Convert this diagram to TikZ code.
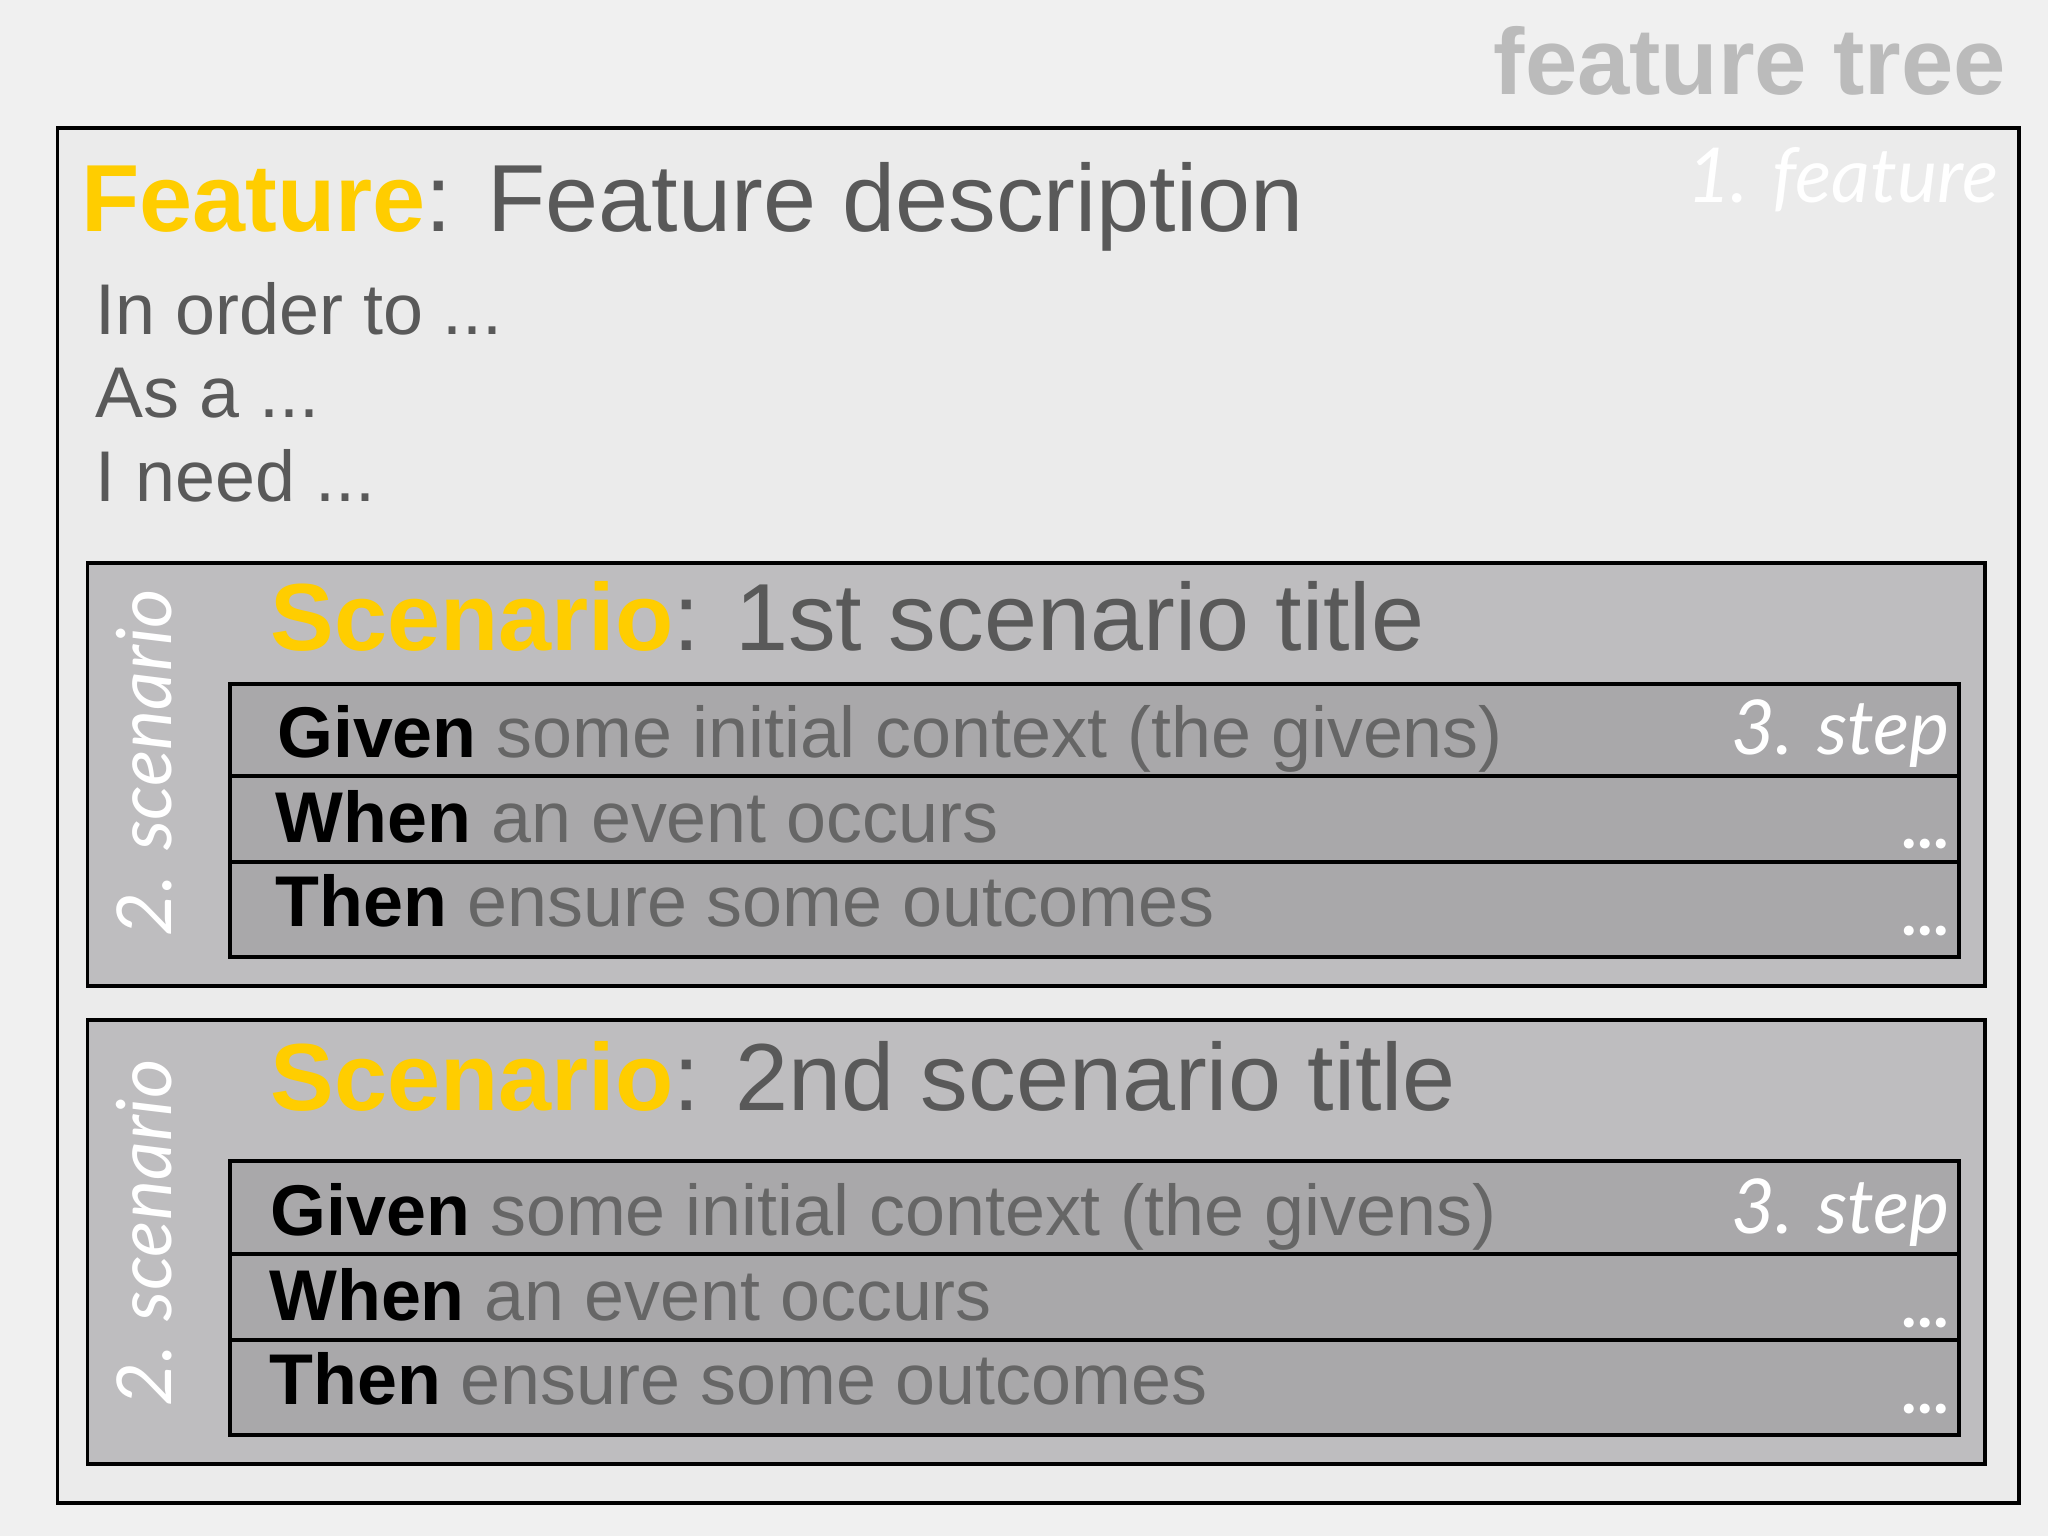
\documentclass[tikz,border=0pt]{standalone}
\usepackage{fontspec}
\setmainfont{Liberation Sans}
\newfontfamily\gillfont{Lato}
\usepackage[svgnames]{xcolor}
\usepackage{tikz}
\definecolor{pagebg}{HTML}{F0F0F0}
\definecolor{featurebg}{HTML}{EBEBEB}
\definecolor{scenariobg}{HTML}{BEBDBF}
\definecolor{stepbg}{HTML}{A9A8AA}
\colorlet{keyword}{Gold!80!Orange}
\definecolor{bodytext}{HTML}{595959}
\definecolor{steptext}{HTML}{666666}
\definecolor{treetext}{HTML}{BBBBBB}

\tikzset{
  box/.style={draw=black,line width=3pt,anchor=north west,inner sep=0pt,outer sep=0pt},
  featurebox/.style={box,fill=featurebg,minimum width=1502pt,minimum height=1053pt},
  scenariobox/.style={box,fill=scenariobg,minimum width=1453pt},
  steprow/.style={box,fill=stepbg,minimum width=1324pt},
  label/.style={inner sep=0pt,anchor=base west},
  levelname/.style={inner sep=0pt,text=white,font=\gillfont\itshape\fontsize{58}{62}\selectfont},
  heading/.style={label,text=bodytext,font=\fontsize{73}{80}\selectfont},
  plain/.style={label,text=bodytext,font=\fontsize{55}{60}\selectfont},
  stepline/.style={label,text=steptext,font=\fontsize{55}{60}\selectfont},
  more/.style={inner sep=0pt,anchor=base east,text=white,font=\gillfont\bfseries\fontsize{50}{60}\selectfont}
}

\begin{document}
\begin{tikzpicture}[x=1pt,y=-1pt]
\fill[pagebg] (0,0) rectangle (1568,1176);
\useasboundingbox (0,0) rectangle (1568,1176);

\node[inner sep=0pt,anchor=base east,text=treetext,font=\bfseries\fontsize{72}{75}\selectfont]
  (tree) at (1536,72) {feature tree};

% 1. feature
\node[featurebox] (feature) at (44,98) {};
\node[levelname,anchor=base east] (featurelvl) at (1530,155) {1. feature};
\node[heading] (featuretitle) at (62,177)
  {\textcolor{keyword}{\bfseries Feature}: Feature description};
\node[plain] (inorder) at (73,256) {In order to ...};
\node[plain] (asa) at (73,320) {As a ...};
\node[plain] (ineed) at (73,384) {I need ...};

% 2. scenario, first
\node[scenariobox,minimum height=324pt] (scenA) at (67,431) {};
\node[levelname,rotate=90,anchor=base west] (scenAlvl) at (131,717) {2. scenario};
\node[heading] (scenAtitle) at (207,498)
  {\textcolor{keyword}{\bfseries Scenario}: 1st scenario title};
\node[steprow,minimum height=70pt] (givenA) at (176,524) {};
\node[steprow,minimum height=66pt] (whenA) at (givenA.south west) {};
\node[steprow,minimum height=73pt] (thenA) at (whenA.south west) {};
\node[stepline] at (212,580) {\textcolor{black}{\bfseries Given} some initial context (the givens)};
\node[stepline] at (211,645) {\textcolor{black}{\bfseries When} an event occurs};
\node[stepline] at (211,709) {\textcolor{black}{\bfseries Then} ensure some outcomes};
\node[levelname,anchor=base east] (stepA) at (1493,578) {3. step};
\node[more] at (1492,650) {...};
\node[more] at (1492,716) {...};

% 2. scenario, second
\node[scenariobox,minimum height=340pt] (scenB) at (67,781) {};
\node[levelname,rotate=90,anchor=base west] (scenBlvl) at (131,1077) {2. scenario};
\node[heading] (scenBtitle) at (207,850)
  {\textcolor{keyword}{\bfseries Scenario}: 2nd scenario title};
\node[steprow,minimum height=71pt] (givenB) at (176,889) {};
\node[steprow,minimum height=66pt] (whenB) at (givenB.south west) {};
\node[steprow,minimum height=73pt] (thenB) at (whenB.south west) {};
\node[stepline] at (207,946) {\textcolor{black}{\bfseries Given} some initial context (the givens)};
\node[stepline] at (206,1011) {\textcolor{black}{\bfseries When} an event occurs};
\node[stepline] at (206,1075) {\textcolor{black}{\bfseries Then} ensure some outcomes};
\node[levelname,anchor=base east] (stepB) at (1493,944) {3. step};
\node[more] at (1492,1016) {...};
\node[more] at (1492,1082) {...};
\end{tikzpicture}
\end{document}
